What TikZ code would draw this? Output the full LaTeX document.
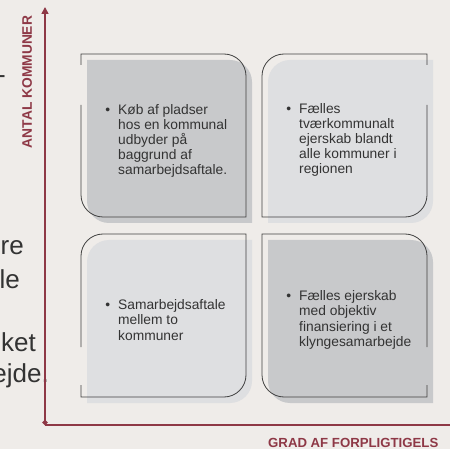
\documentclass[tikz,border=0pt]{standalone}
\usepackage{fontspec}
\setmainfont{Liberation Sans}
\usetikzlibrary{arrows.meta,positioning}

\definecolor{bgcol}{RGB}{239,236,233}
\definecolor{darkbox}{RGB}{200,201,203}
\definecolor{lightbox}{RGB}{222,223,225}
\definecolor{edgecol}{RGB}{64,64,64}
\definecolor{axiscol}{RGB}{142,56,70}
\definecolor{textcol}{RGB}{51,51,51}

% box shapes, two corner patterns (165 x 163, corner radius 22)
\newcommand\shapeA{(0,0) -- (143,0) .. controls (155.15,0) and (165,9.85) .. (165,22) -- (165,163)
  -- (22,163) .. controls (9.85,163) and (0,153.15) .. (0,141) -- cycle}
\newcommand\shapeB{(0,22) .. controls (0,9.85) and (9.85,0) .. (22,0) -- (165,0) -- (165,141)
  .. controls (165,153.15) and (155.15,163) .. (143,163) -- (0,163) -- cycle}
\newcommand\bul{\leavevmode\llap{•\hspace{8pt}}}

\begin{document}
\begin{tikzpicture}
        [x=1pt, y=-1pt,
          axisline/.style={axiscol, line width=1.6pt},
          axislabel/.style={axiscol, inner sep=0pt, font=\fontsize{13.8}{14}\selectfont\bfseries},
          boxedge/.style={edgecol, line width=0.8pt},
          boxtext/.style={textcol, align=left, inner sep=0pt, font=\fontsize{13.8}{15.2}\selectfont},
          slidetext/.style={textcol, inner sep=0pt, font=\fontsize{26}{31}\selectfont}]
  \useasboundingbox (0,0) rectangle (450,449);
  \clip (0,0) rectangle (450,449);
  \fill[bgcol] (0,0) rectangle (450,449);

  % slide text behind the diagram
  \node[slidetext, anchor=base east] (dash) at (6,84) {-};
  \node[slidetext, anchor=base east] (re) at (24,255) {re};
  \node[slidetext, anchor=base east] (le) at (20,288) {le};
  \node[slidetext, anchor=base east] (ket) at (36,351) {ket};
  \node[slidetext, anchor=base east] (ejde) at (49,382) {ejde.};

  % fills
  \fill[darkbox, shift={(87,60)}] \shapeA;
  \fill[lightbox, shift={(268,60)}] \shapeB;
  \fill[lightbox, shift={(87,240)}] \shapeB;
  \fill[darkbox, shift={(268,240)}] \shapeA;

  % outlines with a gap on the outer side
  \draw[boxedge, shift={(81,54)}] (0,51) -- (0,141) .. controls (0,153.15) and (9.85,163) .. (22,163)
    -- (165,163) -- (165,22) .. controls (165,9.85) and (155.15,0) .. (143,0) -- (0,0) -- (0,11);
  \draw[boxedge, shift={(262,54)}] (165,51) -- (165,141) .. controls (165,153.15) and (155.15,163) .. (143,163)
    -- (0,163) -- (0,22) .. controls (0,9.85) and (9.85,0) .. (22,0) -- (165,0) -- (165,11);
  \draw[boxedge, shift={(81,234)}] (0,113) -- (0,22) .. controls (0,9.85) and (9.85,0) .. (22,0)
    -- (165,0) -- (165,141) .. controls (165,153.15) and (155.15,163) .. (143,163) -- (0,163) -- (0,151);
  \draw[boxedge, shift={(262,234)}] (165,113) -- (165,22) .. controls (165,9.85) and (155.15,0) .. (143,0)
    -- (0,0) -- (0,141) .. controls (0,153.15) and (9.85,163) .. (22,163) -- (165,163) -- (165,151);

  % box texts
  \node[boxtext, anchor=west] (kob) at (118,141)
    {\bul Køb af pladser\\hos en kommunal\\udbyder på\\baggrund af\\samarbejdsaftale.};
  \node[boxtext, anchor=west] (faelles) at (299,140)
    {\bul Fælles\\tværkommunalt\\ejerskab blandt\\alle kommuner i\\regionen};
  \node[boxtext, anchor=west] (samarb) at (118,320)
    {\bul Samarbejdsaftale\\mellem to\\kommuner};
  \node[boxtext, anchor=west] (klynge) at (299,320)
    {\bul Fælles ejerskab\\med objektiv\\finansiering i et\\klyngesamarbejde};

  % axes
  \coordinate (origin) at (45,425);
  \coordinate (ytop) at (45,7);
  \coordinate (xend) at (452,425);
  \draw[axisline, {Circle[length=5pt]}-{Triangle[length=7pt,width=7pt]}] (origin) -- (ytop);
  \draw[axisline] (origin) -- (xend);
  \node[axislabel, rotate=90] (antal) at (27,82) {ANTAL KOMMUNER};
  \node[axislabel, anchor=west, font=\fontsize{13.2}{14}\selectfont\bfseries] (grad) at (268,443) {GRAD AF FORPLIGTIGELS};
\end{tikzpicture}
\end{document}
